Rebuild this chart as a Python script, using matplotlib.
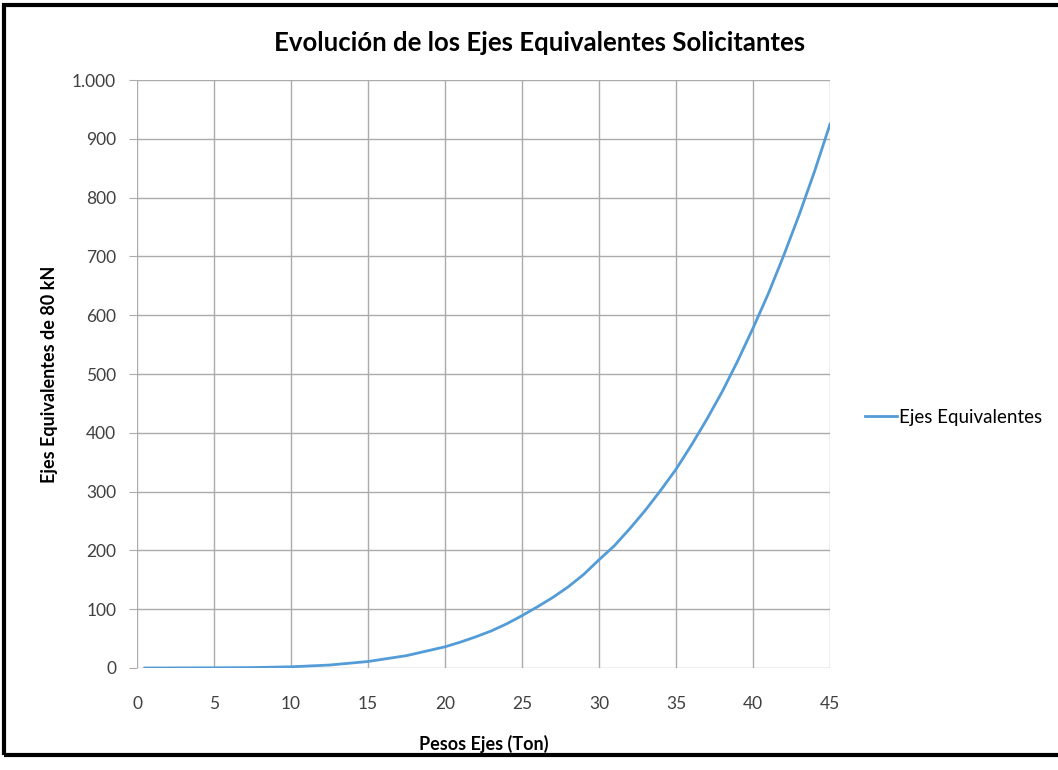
import matplotlib
matplotlib.use('Agg')
import matplotlib.pyplot as plt
from matplotlib.ticker import FuncFormatter, MultipleLocator
from matplotlib.patches import Rectangle

# datos
pesos = [0.5, 2.5, 5, 7.5, 10, 12.5, 15, 17.5, 20, 21, 22, 23, 24, 25, 26, 27,
         28, 29, 30, 31, 32, 33, 34, 35, 36, 37, 38, 39, 40, 41, 42, 43, 44, 45]
ejes = [0, 0.1, 0.3, 0.7, 2, 5, 11, 21, 36, 44, 53, 63, 75, 89, 104, 120,
        138, 159, 184, 208, 237, 268, 302, 338, 379, 423, 470, 522, 578, 637,
        702, 771, 845, 925]
serie = 'Ejes Equivalentes'

plt.rcParams['font.family'] = ['Lato', 'DejaVu Sans']

fig = plt.figure(figsize=(10.58, 7.70), dpi=100)
ax = fig.add_axes([0.1295, 0.1325, 0.655, 0.7635])

ax.plot(pesos, ejes, color='#539cd8', lw=2, label=serie)

ax.set_xlim(0, 45)
ax.set_ylim(0, 1000)
ax.xaxis.set_major_locator(MultipleLocator(5))
ax.yaxis.set_major_locator(MultipleLocator(100))
ax.yaxis.set_major_formatter(FuncFormatter(lambda v, p: f'{int(v):,}'.replace(',', '.')))
ax.grid(True, color='#ababab', lw=1)
ax.set_axisbelow(True)
for s in ax.spines.values():
    s.set_visible(False)
ax.tick_params(axis='y', length=6, color='#ababab', labelsize=12.5, pad=9, labelcolor='#404040')
ax.tick_params(axis='x', length=0, labelsize=12.5, pad=20, labelcolor='#404040')

# el titulo va centrado sobre todo el grafico (incluida la leyenda)
ax.set_title('Evolución de los Ejes Equivalentes Solicitantes', fontsize=18.5,
             fontweight='bold', pad=21, x=0.5815)
ax.set_xlabel('Pesos Ejes (Ton)', fontsize=13, fontweight='bold', labelpad=17)
ax.set_ylabel('Ejes Equivalentes de 80 kN', fontsize=13, fontweight='bold', labelpad=10)

ax.legend(loc='center left', bbox_to_anchor=(865 / 1058, 1 - 417 / 770),
          bbox_transform=fig.transFigure, frameon=False, borderaxespad=0,
          borderpad=0, handlelength=1.7, handletextpad=0.1, fontsize=13.5)

# marco negro del grafico
fig.patches.append(Rectangle((0.004, 0.02), 1.2, 0.973, transform=fig.transFigure,
                             fill=False, ec='black', lw=3))

fig.savefig('out.png', dpi=100)
